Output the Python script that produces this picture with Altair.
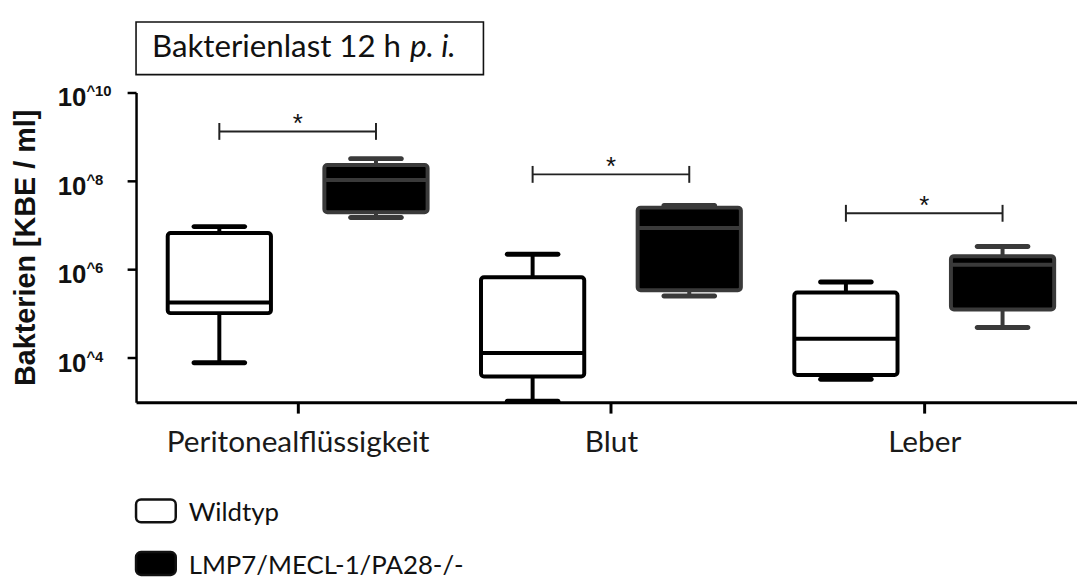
import json
import altair as alt
import pandas as pd

# ---------------- data ----------------
categories = ["Peritonealflüssigkeit", "Blut", "Leber"]
groups = ["Wildtyp", "LMP7/MECL-1/PA28-/-"]

wt_min    = [7.8e3, 1.05e3, 3.3e3]
wt_q1     = [1.03e5, 3.8e3, 4.1e3]
wt_median = [1.8e5, 1.3e4, 2.7e4]
wt_q3     = [6.7e6, 6.7e5, 3.0e5]
wt_max    = [9.3e6, 2.2e6, 5.2e5]

ko_min    = [1.5e7, 2.5e5, 4.9e4]
ko_q1     = [1.96e7, 3.4e5, 1.24e5]
ko_median = [1.05e8, 8.7e6, 1.28e6]
ko_q3     = [2.3e8, 2.5e7, 2.0e6]
ko_max    = [3.2e8, 2.8e7, 3.3e6]

sig_y     = [1.32e9, 1.41e8, 1.86e7]
sig_label = ["*", "*", "*"]

tick_values = [1e4, 1e6, 1e8, 1e10]
tick_exponents = ["4", "6", "8", "10"]

title_main = "Bakterienlast 12 h"
title_italic = "p. i."
y_title = "Bakterien [KBE / ml]"

# ---------------- tables ----------------
offset = {groups[0]: 0.25, groups[1]: 0.75}
stats = {
    groups[0]: (wt_min, wt_q1, wt_median, wt_q3, wt_max),
    groups[1]: (ko_min, ko_q1, ko_median, ko_q3, ko_max),
}
rows = []
for i, cat in enumerate(categories):
    for g in groups:
        lo, q1, med, q3, hi = (s[i] for s in stats[g])
        rows.append(dict(cat=cat, group=g, pos=i + offset[g],
                         lo=lo, q1=q1, med=med, q3=q3, hi=hi))
box_df = pd.DataFrame(rows)

sig_df = pd.DataFrame({
    "cat": categories,
    "x1": [i + offset[groups[0]] for i in range(len(categories))],
    "x2": [i + offset[groups[1]] for i in range(len(categories))],
    "xm": [i + 0.5 for i in range(len(categories))],
    "y": sig_y,
    "label": sig_label,
})
sig_ends = pd.concat([
    sig_df[["x1", "y"]].rename(columns={"x1": "x"}),
    sig_df[["x2", "y"]].rename(columns={"x2": "x"}),
])

tick_df = pd.DataFrame({"v": tick_values, "base": ["10"] * len(tick_values),
                        "sup": ["^" + e for e in tick_exponents]})

one = pd.DataFrame({"k": [0]})

# ---------------- scales & axes ----------------
PLOT_W, PLOT_H = 948, 312
xs = alt.Scale(domain=[0, PLOT_W / 319], nice=False, zero=False)
ys = alt.Scale(type="log", domain=[1e3, 1e10], nice=False)
fill_scale = alt.Scale(domain=groups, range=["#ffffff", "#000000"])
line_scale = alt.Scale(domain=groups, range=["#000000", "#3a3a3a"])

CAL = "Lato"
ARIAL = "Liberation Sans"

label_expr = json.dumps(categories, ensure_ascii=False) + "[floor(datum.value)]"

x_axis = alt.Axis(values=[i + 0.5 for i in range(len(categories))], labelExpr=label_expr,
                  grid=False, tickSize=11, tickWidth=3, domainWidth=3,
                  domainColor="#000", tickColor="#000", labelFont=CAL, labelFontSize=30,
                  labelColor="#1a1a1a", labelPadding=15, labelFlush=False, labelLimit=0,
                  labelOverlap=False, title=None)
y_axis = alt.Axis(values=tick_values, labels=False, grid=False, tickSize=9, tickWidth=2.5,
                  domainWidth=2.5, domainColor="#000", tickColor="#000",
                  title=y_title, titleX=-111, titleY=PLOT_H / 2, titleAngle=-90,
                  titleAlign="center", titleBaseline="middle", titleFont=ARIAL,
                  titleFontWeight="bold", titleFontSize=29, titleColor="#111", titleLimit=0)


def X(f):
    return alt.X(f, type="quantitative", scale=xs, axis=x_axis)


def Y(f):
    return alt.Y(f, type="quantitative", scale=ys, axis=y_axis)


base = alt.Chart(box_df)

whisk_up = base.mark_rule(strokeWidth=4).encode(
    x=X("pos"), y=Y("q3"), y2="hi",
    stroke=alt.Stroke("group:N", scale=line_scale, legend=None))
whisk_dn = base.mark_rule(strokeWidth=4).encode(
    x=X("pos"), y=Y("lo"), y2="q1",
    stroke=alt.Stroke("group:N", scale=line_scale, legend=None))
cap_hi = base.mark_tick(orient="horizontal", size=56, thickness=5, cornerRadius=2.5,
                        opacity=1).encode(
    x=X("pos"), y=Y("hi"), color=alt.Color("group:N", scale=line_scale, legend=None))
cap_lo = base.mark_tick(orient="horizontal", size=56, thickness=5, cornerRadius=2.5,
                        opacity=1).encode(
    x=X("pos"), y=Y("lo"), color=alt.Color("group:N", scale=line_scale, legend=None))
boxes = base.mark_bar(size=104, strokeWidth=4, cornerRadius=3, opacity=1).encode(
    x=X("pos"), y=Y("q1"), y2="q3",
    fill=alt.Fill("group:N", scale=fill_scale, legend=None),
    stroke=alt.Stroke("group:N", scale=line_scale, legend=None))
medians = base.mark_tick(orient="horizontal", size=104, thickness=4, opacity=1).encode(
    x=X("pos"), y=Y("med"), color=alt.Color("group:N", scale=line_scale, legend=None))

sig_line = alt.Chart(sig_df).mark_rule(strokeWidth=2, color="#222").encode(
    x=X("x1"), x2="x2", y=Y("y"))
sig_tick = alt.Chart(sig_ends).mark_tick(orient="vertical", size=17, thickness=2,
                                         color="#222", opacity=1).encode(
    x=X("x"), y=Y("y"))
sig_star = alt.Chart(sig_df).mark_text(font=ARIAL, fontSize=26, baseline="alphabetic",
                                       dy=1, color="#111").encode(
    x=X("xm"), y=Y("y"), text="label:N")

ylab_base = alt.Chart(tick_df).mark_text(font=ARIAL, fontWeight="bold", fontSize=26,
                                         align="right", baseline="alphabetic", dy=14,
                                         color="#111").encode(
    x=alt.value(-50), y=Y("v"), text="base:N")
ylab_sup = alt.Chart(tick_df).mark_text(font=ARIAL, fontWeight="bold", fontSize=15,
                                        align="left", baseline="alphabetic", dy=4,
                                        color="#111").encode(
    x=alt.value(-50), y=Y("v"), text="sup:N")

title_box = alt.Chart(one).mark_rect(fill="white", stroke="#111", strokeWidth=1.6).encode(
    x=alt.value(0), x2=alt.value(350), y=alt.value(-71), y2=alt.value(-18))
title_t1 = alt.Chart(one).mark_text(font=CAL, fontSize=31.5, align="left", baseline="alphabetic",
                                    color="#111", text=title_main).encode(
    x=alt.value(16), y=alt.value(-36))
title_t2 = alt.Chart(one).mark_text(font=CAL, fontSize=31.5, fontStyle="italic", align="left",
                                    baseline="alphabetic", color="#111", text=title_italic).encode(
    x=alt.value(276), y=alt.value(-36))

leg_df = pd.DataFrame({"group": groups})
leg_wt_box = alt.Chart(leg_df.iloc[[0]]).mark_rect(cornerRadius=5, stroke="#111", strokeWidth=2.5).encode(
    x=alt.value(0), x2=alt.value(40), y=alt.value(410), y2=alt.value(433),
    fill=alt.Fill("group:N", scale=fill_scale, legend=None))
leg_ko_box = alt.Chart(leg_df.iloc[[1]]).mark_rect(cornerRadius=5, stroke="#111", strokeWidth=2.5).encode(
    x=alt.value(0), x2=alt.value(40), y=alt.value(463), y2=alt.value(486),
    fill=alt.Fill("group:N", scale=fill_scale, legend=None))
leg_wt_txt = alt.Chart(leg_df.iloc[[0]]).mark_text(font=CAL, fontSize=26, align="left",
                                                   baseline="alphabetic", color="#111").encode(
    x=alt.value(53), y=alt.value(432), text="group:N")
leg_ko_txt = alt.Chart(leg_df.iloc[[1]]).mark_text(font=CAL, fontSize=26, align="left",
                                                   baseline="alphabetic", color="#111").encode(
    x=alt.value(53), y=alt.value(485), text="group:N")

chart = alt.layer(
    whisk_up, whisk_dn, boxes, cap_hi, cap_lo, medians,
    sig_line, sig_tick, sig_star, ylab_base, ylab_sup,
    title_box, title_t1, title_t2,
    leg_wt_box, leg_ko_box, leg_wt_txt, leg_ko_txt,
).properties(
    width=PLOT_W, height=PLOT_H,
    background="white",
    autosize=alt.AutoSizeParams(type="none"),
    padding={"left": 129, "top": 83, "right": 0, "bottom": 175},
).configure_view(strokeWidth=0)

chart.save("out.html", embed_options={"renderer": "svg", "actions": False})
